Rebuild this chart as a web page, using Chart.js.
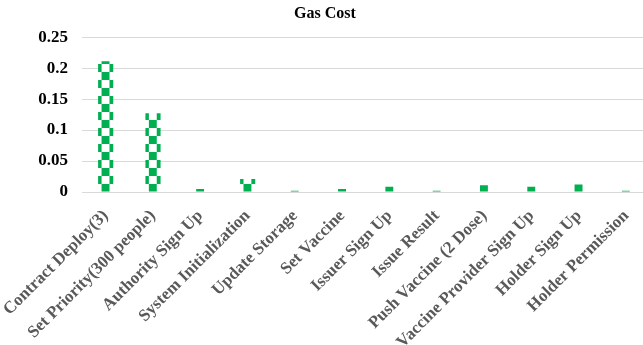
<!DOCTYPE html>
<html>
<head>
<meta charset="utf-8">
<script src="https://cdn.jsdelivr.net/npm/chart.js@4"></script>
<style>
  html, body { margin: 0; padding: 0; background: #fff; overflow: hidden; }
  #wrap { width: 656px; height: 345px; }
</style>
</head>
<body>
<div id="wrap"><canvas id="gasChart" width="656" height="345"></canvas></div>
<script>
const operations = ['Contract Deploy(3)', 'Set Priority(300 people)', 'Authority Sign Up',
    'System Initialization', 'Update Storage', 'Set Vaccine', 'Issuer Sign Up', 'Issue Result',
    'Push Vaccine (2 Dose)', 'Vaccine Provider Sign Up', 'Holder Sign Up', 'Holder Permission'];
const gasCost = [0.211, 0.127, 0.005, 0.021, 0.002, 0.005, 0.0085, 0.002, 0.0107, 0.0085, 0.0123, 0.002];
const yTicks = [0, 0.05, 0.1, 0.15, 0.2, 0.25];
const yTickLabels = ['0', '0.05', '0.1', '0.15', '0.2', '0.25'];

// checkered fill like the Excel pattern, tile scaled so every bar gets the same phase
function checker() {
    const c = document.createElement('canvas');
    c.width = 16; c.height = 16;
    const g = c.getContext('2d');
    g.fillStyle = '#ffffff';
    g.fillRect(0, 0, 16, 16);
    g.fillStyle = '#00b050';
    g.fillRect(0, 0, 4, 8);
    g.fillRect(12, 0, 4, 8);
    g.fillRect(4, 8, 8, 8);
    const p = g.createPattern(c, 'repeat');
    const s = 47.3 / 48;
    p.setTransform(new DOMMatrix([s, 0, 0, 1, 105.5 - 8 * s, 0]));
    return p;
}
const ctx = document.getElementById('gasChart').getContext('2d');

new Chart(ctx, {
    type: 'bar',
    data: {
        labels: operations,
        datasets: [{
            label: 'Gas Cost',
            data: gasCost,
            backgroundColor: checker(),
            borderWidth: 0,
            categoryPercentage: 1,
            barPercentage: 0.32
        }]
    },
    options: {
        responsive: false,
        animation: false,
        layout: { padding: { left: 0, right: 6, top: 0, bottom: 0 } },
        plugins: {
            legend: { display: false },
            tooltip: { enabled: false },
            title: {
                display: true,
                text: 'Gas Cost',
                color: '#000',
                font: { family: 'Liberation Serif', size: 16, weight: 'bold' },
                padding: { top: 4, bottom: 14 }
            }
        },
        scales: {
            x: {
                grid: { display: false },
                border: { color: '#d9d9d9' },
                ticks: {
                    autoSkip: false,
                    minRotation: 45,
                    maxRotation: 45,
                    padding: 6,
                    color: '#595959',
                    font: { family: 'Liberation Serif', size: 17, weight: 'bold' }
                },
                afterFit: s => {
                    s.height = 153;
                    s.paddingLeft = 0;
                    s.paddingRight = 0;
                }
            },
            y: {
                min: 0,
                max: 0.25,
                border: { display: false },
                grid: { color: '#d9d9d9', drawTicks: false },
                afterBuildTicks: s => { s.ticks = yTicks.map(v => ({ value: v })); },
                ticks: {
                    padding: 14,
                    color: '#000',
                    font: { family: 'Liberation Serif', size: 17, weight: 'bold' },
                    callback: v => yTickLabels[yTicks.indexOf(v)]
                },
                afterFit: s => { s.width = 82; }
            }
        }
    }
});
</script>
</body>
</html>
